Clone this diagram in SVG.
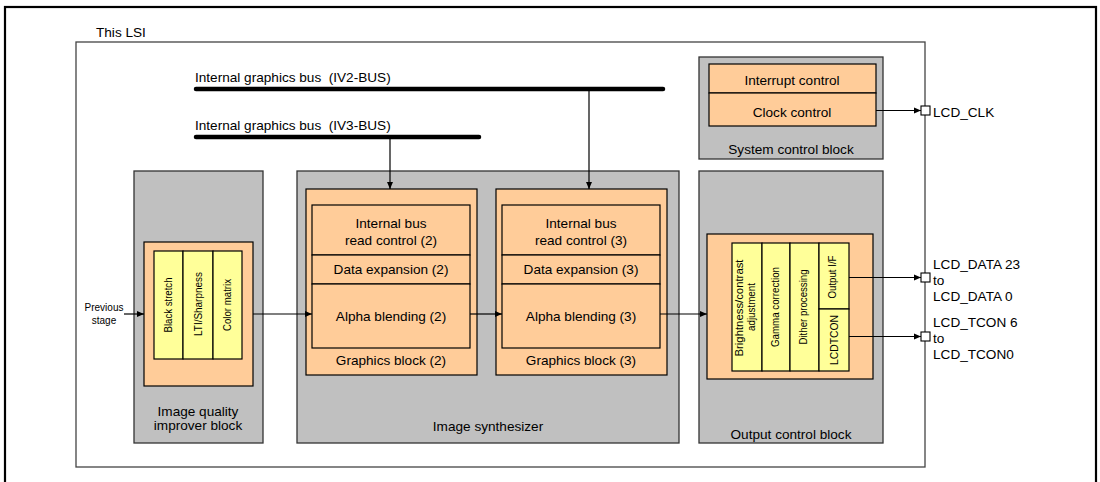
<svg xmlns="http://www.w3.org/2000/svg" width="1100" height="482" viewBox="0 0 1100 482">
<defs>
<style>
text{font-family:"Liberation Sans",Arial,sans-serif;font-size:13.6px;fill:#000}
.c{text-anchor:middle}
.s{font-size:10px}
.v{font-size:10px;text-anchor:middle}
.gray{fill:#c0c0c0;stroke:#333;stroke-width:1.3}
.or{fill:#ffcc99;stroke:#000;stroke-width:1.2}
.ye{fill:#ffff99;stroke:#000;stroke-width:1.2}
.ln{fill:none;stroke:#000;stroke-width:1.2}
.bus{stroke:#000;stroke-width:4.5;stroke-linecap:round}
.pin{fill:#fff;stroke:#000;stroke-width:1.1}
</style>
<marker id="ah" markerWidth="8" markerHeight="8" refX="7" refY="4" orient="auto" markerUnits="userSpaceOnUse"><path d="M0,1 L7,4 L0,7 z" fill="#000"/></marker>
</defs>
<rect width="1100" height="482" fill="#fff"/>
<rect x="5" y="7" width="1091" height="500" fill="none" stroke="#000" stroke-width="2.2"/>

<g id="lsi">
<text x="96" y="37">This LSI</text>
<rect x="76" y="42" width="849" height="425" fill="#fff" stroke="#444" stroke-width="1.3"/>
</g>

<g id="buses">
<text x="195" y="82">Internal graphics bus &#160;(IV2-BUS)</text>
<line class="bus" x1="196" y1="89" x2="663" y2="89"/>
<text x="195" y="130">Internal graphics bus &#160;(IV3-BUS)</text>
<line class="bus" x1="196" y1="137" x2="479" y2="137"/>
</g>

<g id="system-control">
<rect class="gray" x="699" y="57" width="184" height="102"/>
<rect class="or" x="709" y="64" width="167" height="29"/>
<rect class="or" x="709" y="93" width="167" height="33"/>
<text class="c" x="792" y="85">Interrupt control</text>
<text class="c" x="792" y="117">Clock control</text>
<text class="c" x="791" y="154">System control block</text>
</g>

<g id="image-quality">
<rect class="gray" x="134" y="171" width="129" height="272"/>
<rect class="or" x="144" y="242" width="109" height="144"/>
<rect class="ye" x="154" y="251" width="29" height="108"/>
<rect class="ye" x="183" y="251" width="30" height="108"/>
<rect class="ye" x="213" y="251" width="29" height="108"/>
<text class="v" transform="translate(172,305) rotate(-90)" textLength="55" lengthAdjust="spacingAndGlyphs">Black stretch</text>
<text class="v" transform="translate(202,304) rotate(-90)" textLength="64" lengthAdjust="spacingAndGlyphs">LTI/Sharpness</text>
<text class="v" transform="translate(231,305) rotate(-90)" textLength="52" lengthAdjust="spacingAndGlyphs">Color matrix</text>
<text class="c" x="198" y="416">Image quality</text>
<text class="c" x="198" y="430">improver block</text>
</g>

<g id="image-synthesizer">
<rect class="gray" x="297" y="171" width="382" height="272"/>
<text class="c" x="488" y="431">Image synthesizer</text>
</g>

<g id="graphics-block-2">
<rect class="or" x="306" y="189" width="171" height="186"/>
<rect class="or" x="312" y="205" width="158" height="50"/>
<rect class="or" x="312" y="255" width="158" height="29"/>
<rect class="or" x="312" y="284" width="158" height="64"/>
<text class="c" x="391" y="228">Internal bus</text>
<text class="c" x="391" y="245">read control (2)</text>
<text class="c" x="391" y="274">Data expansion (2)</text>
<text class="c" x="391" y="321">Alpha blending (2)</text>
<text class="c" x="391" y="365">Graphics block (2)</text>
</g>

<g id="graphics-block-3">
<rect class="or" x="496" y="189" width="171" height="186"/>
<rect class="or" x="502" y="205" width="158" height="50"/>
<rect class="or" x="502" y="255" width="158" height="29"/>
<rect class="or" x="502" y="284" width="158" height="64"/>
<text class="c" x="581" y="228">Internal bus</text>
<text class="c" x="581" y="245">read control (3)</text>
<text class="c" x="581" y="274">Data expansion (3)</text>
<text class="c" x="581" y="321">Alpha blending (3)</text>
<text class="c" x="581" y="365">Graphics block (3)</text>
</g>

<g id="output-control">
<rect class="gray" x="699" y="171" width="184" height="272"/>
<rect class="or" x="707" y="234" width="166" height="145"/>
<rect class="ye" x="732" y="243" width="30" height="128"/>
<rect class="ye" x="762" y="243" width="28" height="128"/>
<rect class="ye" x="790" y="243" width="29" height="128"/>
<rect class="ye" x="819" y="243" width="30" height="66"/>
<rect class="ye" x="819" y="309" width="30" height="62"/>
<text class="v" transform="translate(743,308) rotate(-90)" textLength="97" lengthAdjust="spacingAndGlyphs">Brightness/contrast</text>
<text class="v" transform="translate(755,307) rotate(-90)" textLength="48" lengthAdjust="spacingAndGlyphs">adjustment</text>
<text class="v" transform="translate(779,307) rotate(-90)" textLength="80" lengthAdjust="spacingAndGlyphs">Gamma correction</text>
<text class="v" transform="translate(807,307) rotate(-90)" textLength="75" lengthAdjust="spacingAndGlyphs">Dither processing</text>
<text class="v" transform="translate(836,277) rotate(-90)" textLength="43" lengthAdjust="spacingAndGlyphs">Output I/F</text>
<text class="v" transform="translate(838,340) rotate(-90)" textLength="50" lengthAdjust="spacingAndGlyphs">LCDTCON</text>
<text class="c" x="791" y="439">Output control block</text>
</g>

<g id="previous-stage">
<text class="s c" x="104" y="311">Previous</text>
<text class="s c" x="104" y="324">stage</text>
</g>

<g id="pins">
<rect class="pin" x="921" y="106" width="9" height="9"/>
<text x="933" y="117">LCD_CLK</text>
<rect class="pin" x="921" y="273" width="9" height="9"/>
<text x="933" y="269">LCD_DATA 23</text>
<text x="933" y="285">to</text>
<text x="933" y="301">LCD_DATA 0</text>
<rect class="pin" x="921" y="332" width="9" height="9"/>
<text x="933" y="327">LCD_TCON 6</text>
<text x="933" y="343">to</text>
<text x="933" y="359">LCD_TCON0</text>
</g>

<g id="connectors">
<line class="ln" x1="390" y1="139" x2="390" y2="189" marker-end="url(#ah)"/>
<line class="ln" x1="589" y1="91" x2="589" y2="189" marker-end="url(#ah)"/>
<line class="ln" x1="124" y1="314" x2="144" y2="314" marker-end="url(#ah)"/>
<line class="ln" x1="253" y1="314" x2="312" y2="314" marker-end="url(#ah)"/>
<line class="ln" x1="470" y1="314" x2="502" y2="314" marker-end="url(#ah)"/>
<line class="ln" x1="660" y1="314" x2="707" y2="314" marker-end="url(#ah)"/>
<line class="ln" x1="876" y1="110.5" x2="921" y2="110.5" marker-end="url(#ah)"/>
<line class="ln" x1="849" y1="277.5" x2="921" y2="277.5" marker-end="url(#ah)"/>
<line class="ln" x1="849" y1="336.5" x2="921" y2="336.5" marker-end="url(#ah)"/>
</g>
</svg>
